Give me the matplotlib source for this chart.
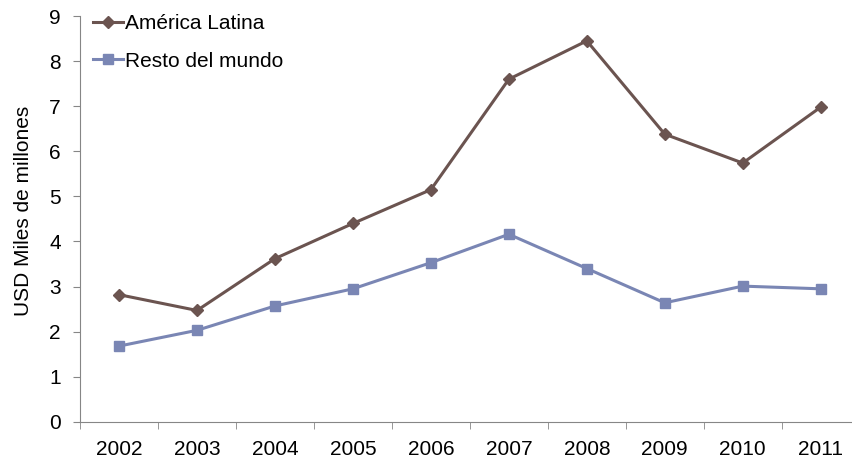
import matplotlib
matplotlib.use('Agg')
import matplotlib.pyplot as plt
import numpy as np

plt.rcParams['font.family'] = ['Liberation Sans', 'DejaVu Sans']

years = ['2002', '2003', '2004', '2005', '2006', '2007', '2008', '2009', '2010', '2011']
america_latina = [2.82, 2.47, 3.62, 4.40, 5.15, 7.60, 8.45, 6.38, 5.74, 6.98]
resto_mundo = [1.68, 2.03, 2.57, 2.95, 3.53, 4.16, 3.40, 2.64, 3.01, 2.95]

fig = plt.figure(figsize=(8.52, 4.59), dpi=100)
ax = fig.add_axes([0.094, 0.081, 0.915, 0.884])

x = np.arange(len(years))
ax.plot(x, america_latina, color='#6B5450', lw=2.2, marker='D', markersize=6,
        label='América Latina')
ax.plot(x, resto_mundo, color='#7A86B4', lw=2.2, marker='s', markersize=7,
        label='Resto del mundo')

ax.set_xlim(-0.5, len(years) - 0.5)
ax.set_ylim(0, 9)
ax.set_yticks(range(10))
ax.set_xticks(x)
ax.set_xticklabels(years)
# category boundaries carry the tick marks
ax.set_xticks(np.arange(-0.5, len(years)), minor=True)
ax.tick_params(axis='x', which='major', length=0, labelsize=15, pad=13)
ax.tick_params(axis='x', which='minor', length=5, color='#868686', direction='out')
ax.tick_params(axis='y', length=5, color='#868686', labelsize=15, pad=9)

for side in ['top', 'right']:
    ax.spines[side].set_visible(False)
for side in ['left', 'bottom']:
    ax.spines[side].set_color('#868686')

ax.set_ylabel('USD Miles de millones', fontsize=15)
ax.yaxis.set_label_coords(-0.061, 0.52)

ax.legend(loc='upper left', bbox_to_anchor=(93 / 852, 1 - 14 / 459),
          bbox_transform=fig.transFigure, frameon=False, fontsize=15,
          handlelength=1.45, handletextpad=0.1, labelspacing=0.9,
          borderpad=0, borderaxespad=0)

fig.savefig('out.png', dpi=100)
